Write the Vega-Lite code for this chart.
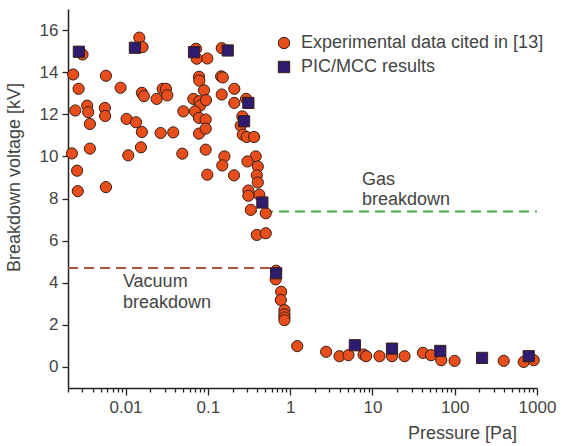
{
  "$schema": "https://vega.github.io/schema/vega-lite/v6.json",
  "width": 469,
  "height": 379,
  "autosize": {"type": "none"},
  "padding": {"left": 68, "top": 9, "right": 40, "bottom": 58},
  "background": "white",
  "config": {
    "view": {"stroke": null},
    "font": "Liberation Sans",
    "axis": {"domainColor": "#222", "domainWidth": 1.5, "tickColor": "#222", "tickWidth": 1.3, "labelColor": "#444", "titleColor": "#444", "labelFontSize": 17, "titleFontSize": 18, "titleFontWeight": "normal", "grid": false, "labelFont": "Liberation Sans", "titleFont": "Liberation Sans"},
    "legend": {"labelFontSize": 18, "labelColor": "#444", "labelFont": "Liberation Sans", "labelLimit": 0, "symbolSize": 130, "rowPadding": 6, "labelOffset": 8, "padding": 0, "symbolStrokeWidth": 1}
  },
  "datasets": {
    "pts": [
      {"p": 0.0030, "v": 14.84, "s": "Experimental data cited in [13]"},
      {"p": 0.00231, "v": 13.89, "s": "Experimental data cited in [13]"},
      {"p": 0.00269, "v": 13.21, "s": "Experimental data cited in [13]"},
      {"p": 0.00245, "v": 12.18, "s": "Experimental data cited in [13]"},
      {"p": 0.00342, "v": 12.41, "s": "Experimental data cited in [13]"},
      {"p": 0.00352, "v": 12.10, "s": "Experimental data cited in [13]"},
      {"p": 0.00369, "v": 11.54, "s": "Experimental data cited in [13]"},
      {"p": 0.00369, "v": 10.37, "s": "Experimental data cited in [13]"},
      {"p": 0.00223, "v": 10.14, "s": "Experimental data cited in [13]"},
      {"p": 0.00258, "v": 9.32, "s": "Experimental data cited in [13]"},
      {"p": 0.00263, "v": 8.35, "s": "Experimental data cited in [13]"},
      {"p": 0.00578, "v": 13.83, "s": "Experimental data cited in [13]"},
      {"p": 0.00561, "v": 12.30, "s": "Experimental data cited in [13]"},
      {"p": 0.00565, "v": 11.92, "s": "Experimental data cited in [13]"},
      {"p": 0.00578, "v": 8.54, "s": "Experimental data cited in [13]"},
      {"p": 0.00871, "v": 13.26, "s": "Experimental data cited in [13]"},
      {"p": 0.0103, "v": 11.78, "s": "Experimental data cited in [13]"},
      {"p": 0.0108, "v": 10.05, "s": "Experimental data cited in [13]"},
      {"p": 0.0134, "v": 11.62, "s": "Experimental data cited in [13]"},
      {"p": 0.0158, "v": 11.16, "s": "Experimental data cited in [13]"},
      {"p": 0.0154, "v": 10.43, "s": "Experimental data cited in [13]"},
      {"p": 0.0147, "v": 15.64, "s": "Experimental data cited in [13]"},
      {"p": 0.0161, "v": 15.19, "s": "Experimental data cited in [13]"},
      {"p": 0.0158, "v": 13.02, "s": "Experimental data cited in [13]"},
      {"p": 0.0167, "v": 12.86, "s": "Experimental data cited in [13]"},
      {"p": 0.0239, "v": 12.73, "s": "Experimental data cited in [13]"},
      {"p": 0.0283, "v": 13.21, "s": "Experimental data cited in [13]"},
      {"p": 0.031, "v": 13.21, "s": "Experimental data cited in [13]"},
      {"p": 0.0322, "v": 12.9, "s": "Experimental data cited in [13]"},
      {"p": 0.0267, "v": 11.11, "s": "Experimental data cited in [13]"},
      {"p": 0.038, "v": 11.14, "s": "Experimental data cited in [13]"},
      {"p": 0.0504, "v": 12.14, "s": "Experimental data cited in [13]"},
      {"p": 0.049, "v": 10.13, "s": "Experimental data cited in [13]"},
      {"p": 0.0718, "v": 15.11, "s": "Experimental data cited in [13]"},
      {"p": 0.0733, "v": 14.64, "s": "Experimental data cited in [13]"},
      {"p": 0.0986, "v": 14.65, "s": "Experimental data cited in [13]"},
      {"p": 0.0781, "v": 13.78, "s": "Experimental data cited in [13]"},
      {"p": 0.0788, "v": 13.6, "s": "Experimental data cited in [13]"},
      {"p": 0.0899, "v": 13.14, "s": "Experimental data cited in [13]"},
      {"p": 0.0667, "v": 12.73, "s": "Experimental data cited in [13]"},
      {"p": 0.0788, "v": 12.62, "s": "Experimental data cited in [13]"},
      {"p": 0.0805, "v": 12.41, "s": "Experimental data cited in [13]"},
      {"p": 0.095, "v": 12.67, "s": "Experimental data cited in [13]"},
      {"p": 0.0699, "v": 12.14, "s": "Experimental data cited in [13]"},
      {"p": 0.0781, "v": 11.83, "s": "Experimental data cited in [13]"},
      {"p": 0.0942, "v": 11.75, "s": "Experimental data cited in [13]"},
      {"p": 0.0781, "v": 11.08, "s": "Experimental data cited in [13]"},
      {"p": 0.0942, "v": 11.32, "s": "Experimental data cited in [13]"},
      {"p": 0.0942, "v": 10.32, "s": "Experimental data cited in [13]"},
      {"p": 0.0986, "v": 9.13, "s": "Experimental data cited in [13]"},
      {"p": 0.1476, "v": 15.14, "s": "Experimental data cited in [13]"},
      {"p": 0.145, "v": 13.8, "s": "Experimental data cited in [13]"},
      {"p": 0.152, "v": 13.75, "s": "Experimental data cited in [13]"},
      {"p": 0.1476, "v": 12.94, "s": "Experimental data cited in [13]"},
      {"p": 0.159, "v": 10.0, "s": "Experimental data cited in [13]"},
      {"p": 0.150, "v": 9.57, "s": "Experimental data cited in [13]"},
      {"p": 0.21, "v": 13.21, "s": "Experimental data cited in [13]"},
      {"p": 0.21, "v": 12.54, "s": "Experimental data cited in [13]"},
      {"p": 0.208, "v": 9.1, "s": "Experimental data cited in [13]"},
      {"p": 0.292, "v": 12.73, "s": "Experimental data cited in [13]"},
      {"p": 0.263, "v": 11.9, "s": "Experimental data cited in [13]"},
      {"p": 0.251, "v": 11.46, "s": "Experimental data cited in [13]"},
      {"p": 0.266, "v": 11.03, "s": "Experimental data cited in [13]"},
      {"p": 0.297, "v": 10.92, "s": "Experimental data cited in [13]"},
      {"p": 0.365, "v": 10.92, "s": "Experimental data cited in [13]"},
      {"p": 0.382, "v": 10.0, "s": "Experimental data cited in [13]"},
      {"p": 0.303, "v": 9.76, "s": "Experimental data cited in [13]"},
      {"p": 0.405, "v": 9.52, "s": "Experimental data cited in [13]"},
      {"p": 0.394, "v": 9.1, "s": "Experimental data cited in [13]"},
      {"p": 0.405, "v": 8.76, "s": "Experimental data cited in [13]"},
      {"p": 0.311, "v": 8.38, "s": "Experimental data cited in [13]"},
      {"p": 0.311, "v": 8.13, "s": "Experimental data cited in [13]"},
      {"p": 0.423, "v": 8.18, "s": "Experimental data cited in [13]"},
      {"p": 0.333, "v": 7.46, "s": "Experimental data cited in [13]"},
      {"p": 0.506, "v": 7.30, "s": "Experimental data cited in [13]"},
      {"p": 0.394, "v": 6.27, "s": "Experimental data cited in [13]"},
      {"p": 0.506, "v": 6.35, "s": "Experimental data cited in [13]"},
      {"p": 0.676, "v": 4.57, "s": "Experimental data cited in [13]"},
      {"p": 0.668, "v": 4.16, "s": "Experimental data cited in [13]"},
      {"p": 0.778, "v": 3.57, "s": "Experimental data cited in [13]"},
      {"p": 0.771, "v": 3.18, "s": "Experimental data cited in [13]"},
      {"p": 0.853, "v": 2.7, "s": "Experimental data cited in [13]"},
      {"p": 0.853, "v": 2.5, "s": "Experimental data cited in [13]"},
      {"p": 0.853, "v": 2.35, "s": "Experimental data cited in [13]"},
      {"p": 0.853, "v": 2.22, "s": "Experimental data cited in [13]"},
      {"p": 1.22, "v": 0.99, "s": "Experimental data cited in [13]"},
      {"p": 2.74, "v": 0.72, "s": "Experimental data cited in [13]"},
      {"p": 3.98, "v": 0.51, "s": "Experimental data cited in [13]"},
      {"p": 5.12, "v": 0.56, "s": "Experimental data cited in [13]"},
      {"p": 7.8, "v": 0.59, "s": "Experimental data cited in [13]"},
      {"p": 8.4, "v": 0.51, "s": "Experimental data cited in [13]"},
      {"p": 12.2, "v": 0.51, "s": "Experimental data cited in [13]"},
      {"p": 17.3, "v": 0.51, "s": "Experimental data cited in [13]"},
      {"p": 24.6, "v": 0.51, "s": "Experimental data cited in [13]"},
      {"p": 41.1, "v": 0.67, "s": "Experimental data cited in [13]"},
      {"p": 51.5, "v": 0.56, "s": "Experimental data cited in [13]"},
      {"p": 68.7, "v": 0.32, "s": "Experimental data cited in [13]"},
      {"p": 99.7, "v": 0.29, "s": "Experimental data cited in [13]"},
      {"p": 394, "v": 0.29, "s": "Experimental data cited in [13]"},
      {"p": 689, "v": 0.24, "s": "Experimental data cited in [13]"},
      {"p": 912, "v": 0.32, "s": "Experimental data cited in [13]"},
      {"p": 0.00271, "v": 14.97, "s": "PIC/MCC results"},
      {"p": 0.0130, "v": 15.16, "s": "PIC/MCC results"},
      {"p": 0.0679, "v": 14.95, "s": "PIC/MCC results"},
      {"p": 0.1746, "v": 15.03, "s": "PIC/MCC results"},
      {"p": 0.311, "v": 12.54, "s": "PIC/MCC results"},
      {"p": 0.276, "v": 11.67, "s": "PIC/MCC results"},
      {"p": 0.460, "v": 7.81, "s": "PIC/MCC results"},
      {"p": 0.676, "v": 4.45, "s": "PIC/MCC results"},
      {"p": 6.12, "v": 1.03, "s": "PIC/MCC results"},
      {"p": 17.3, "v": 0.87, "s": "PIC/MCC results"},
      {"p": 66.8, "v": 0.76, "s": "PIC/MCC results"},
      {"p": 215, "v": 0.43, "s": "PIC/MCC results"},
      {"p": 793, "v": 0.51, "s": "PIC/MCC results"}
    ],
    "lines": [
      {"p": 0.002, "p2": 0.62, "v": 4.7, "kind": "vac"},
      {"p": 0.3, "p2": 1000, "v": 7.38, "kind": "gas"}
    ],
    "notes": [
      {"p": 0.0093, "v": 4.03, "t": "Vacuum"},
      {"p": 0.0093, "v": 3.05, "t": "breakdown"},
      {"p": 7.45, "v": 8.89, "t": "Gas"},
      {"p": 7.45, "v": 7.94, "t": "breakdown"}
    ]
  },
  "layer": [
    {
      "data": {"name": "lines"},
      "mark": {"type": "rule", "strokeWidth": 2, "strokeDash": [10, 6]},
      "encoding": {
        "x": {"field": "p", "type": "quantitative", "scale": {"type": "log", "domain": [0.002, 1000], "nice": false},
          "axis": {
            "title": "Pressure [Pa]",
            "values": [0.002,0.003,0.004,0.005,0.006,0.007,0.008,0.009,0.01,0.02,0.03,0.04,0.05,0.06,0.07,0.08,0.09,0.1,0.2,0.3,0.4,0.5,0.6,0.7,0.8,0.9,1,2,3,4,5,6,7,8,9,10,20,30,40,50,60,70,80,90,100,200,300,400,500,600,700,800,900,1000],
            "format": "~g",
            "labelExpr": "indexof([0.01,0.1,1,10,100,1000], datum.value) >= 0 ? datum.label : ''",
            "labelOverlap": false,
            "labelFlush": false,
            "labelPadding": 4,
            "tickSize": {"condition": {"test": "indexof([0.01,0.1,1,10,100,1000], datum.value) >= 0", "value": 7}, "value": 4},
            "titleX": 394,
            "titleY": 50,
            "titleBaseline": "alphabetic",
            "titleAlign": "center"
          }
        },
        "x2": {"field": "p2"},
        "y": {"field": "v", "type": "quantitative", "scale": {"domain": [-1, 17], "nice": false, "zero": false},
          "axis": {
            "title": "Breakdown voltage [kV]",
            "values": [0,1,2,3,4,5,6,7,8,9,10,11,12,13,14,15,16,17],
            "labelExpr": "datum.value % 2 == 0 && datum.value <= 16 ? datum.label : ''",
            "labelOverlap": false,
            "labelPadding": 4,
            "tickSize": {"condition": {"test": "datum.value % 2 == 0", "value": 6}, "value": 3},
            "titleX": -45,
            "titleY": 168,
            "titleAlign": "center"
          }
        },
        "stroke": {"field": "kind", "type": "nominal", "scale": {"domain": ["vac", "gas"], "range": ["#b0503a", "#4aa84a"]}, "legend": null}
      }
    },
    {
      "data": {"name": "notes"},
      "mark": {"type": "text", "align": "left", "baseline": "middle", "fontSize": 18, "color": "#444", "font": "Liberation Sans"},
      "encoding": {
        "x": {"field": "p", "type": "quantitative"},
        "y": {"field": "v", "type": "quantitative"},
        "text": {"field": "t"}
      }
    },
    {
      "data": {"name": "pts"},
      "mark": {"type": "point", "filled": true, "opacity": 1, "size": 125, "stroke": "#3a1e14", "strokeWidth": 1, "strokeOpacity": 1},
      "encoding": {
        "x": {"field": "p", "type": "quantitative"},
        "y": {"field": "v", "type": "quantitative"},
        "color": {"field": "s", "type": "nominal", "scale": {"range": ["#e84e1c", "#2f1b70"]},
          "legend": {"title": null, "orient": "none", "legendX": 207, "legendY": 25}},
        "shape": {"field": "s", "type": "nominal", "scale": {"range": ["circle", "square"]},
          "legend": {"title": null, "orient": "none", "legendX": 207, "legendY": 25}}
      }
    }
  ]
}
